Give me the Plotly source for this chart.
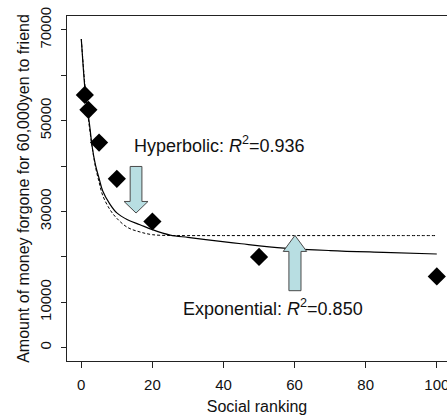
import plotly.graph_objects as go

# ---- data ----
rank = [1, 2, 5, 10, 20, 50, 100]
amount = [55700, 52400, 45200, 37200, 27800, 20000, 15700]

# fitted curves
hyp_x = [0, 0.5, 1, 1.5, 2, 2.5, 3, 4, 5, 6, 8, 10, 13, 16.5, 20, 25, 30, 35, 45, 57, 70, 85, 100]
hyp_y = [68000, 62300, 57300, 54200, 51100, 48000, 44600, 40200, 37300, 34600, 31700, 29700,
         28200, 27100, 26000, 24800, 24300, 23800, 22900, 21960, 21400, 21000, 20640]
exp_x = [0, 1, 2, 3, 4, 5, 6, 8, 10, 13, 16.5, 20, 25, 30, 40, 60, 80, 100]
exp_y = [68000, 58000, 50400, 44500, 39800, 36500, 33600, 30500, 28500, 26500, 25500, 24900,
         24720, 24700, 24700, 24700, 24700, 24700]

x_ticks = [0, 20, 40, 60, 80, 100]
x_ticklabels = ["0", "20", "40", "60", "80", "100"]
y_ticks = [0, 10000, 30000, 50000, 70000]
y_ticklabels = ["0", "10000", "30000", "50000", "70000"]
y_minor_step = 10000

hyp_label = "Hyperbolic: <i>R</i><sup>2</sup>=0.936"
exp_label = "Exponential: <i>R</i><sup>2</sup>=0.850"
x_title = "Social ranking"
y_title = "Amount of money forgone for 60,000yen to friend"

FONT = "Arial, Liberation Sans, sans-serif"


def arrow_path(xc, shaft_half, head_half, tail_y, base_y, tip_y):
    pts = [(xc - shaft_half, tail_y), (xc + shaft_half, tail_y), (xc + shaft_half, base_y),
           (xc + head_half, base_y), (xc, tip_y), (xc - head_half, base_y), (xc - shaft_half, base_y)]
    return "M " + " L ".join(f"{x},{y}" for x, y in pts) + " Z"


fig = go.Figure()
fig.add_trace(go.Scatter(x=exp_x, y=exp_y, mode="lines", line=dict(color="black", width=1, dash="3px,2px", shape="spline"),
                         showlegend=False, hoverinfo="skip"))
fig.add_trace(go.Scatter(x=hyp_x, y=hyp_y, mode="lines", line=dict(color="black", width=1.2, shape="spline"),
                         showlegend=False, hoverinfo="skip"))
fig.add_trace(go.Scatter(x=rank, y=amount, mode="markers", cliponaxis=False,
                         marker=dict(symbol="diamond", size=14, color="black", line=dict(width=0)),
                         showlegend=False))

arrow_style = dict(type="path", xref="x", yref="y", fillcolor="#B8DEE2",
                   line=dict(color="#4a4a4a", width=1), layer="above")
fig.add_shape(path=arrow_path(15.4, 1.65, 3.37, 39930, 32220, 29670), **arrow_style)
fig.add_shape(path=arrow_path(60.1, 1.7, 3.3, 12560, 21210, 24740), **arrow_style)

fig.add_annotation(x=14.4, y=44660, xref="x", yref="y", text=hyp_label, showarrow=False,
                   xanchor="left", yanchor="middle", font=dict(family=FONT, size=18, color="#111"))
fig.add_annotation(x=28.0, y=8750, xref="x", yref="y", text=exp_label, showarrow=False,
                   xanchor="left", yanchor="middle", font=dict(family=FONT, size=18, color="#111"))

fig.update_layout(
    width=447, height=417,
    margin=dict(l=67, r=0, t=16, b=56),
    paper_bgcolor="white", plot_bgcolor="white",
    font=dict(family=FONT, size=15, color="#111"),
    xaxis=dict(range=[-4.02, 102.87], tickvals=x_ticks, ticktext=x_ticklabels, ticks="outside", ticklen=6,
               tickcolor="#222", showline=True, linecolor="#222", linewidth=1, mirror=True, showgrid=False,
               zeroline=False, automargin=False, tickfont=dict(size=15), ticklabelstandoff=4,
               ticklabeloverflow="allow",
               title=dict(text=x_title, font=dict(size=16), standoff=8)),
    yaxis=dict(range=[-2930, 73080], tickvals=y_ticks, ticktext=y_ticklabels, ticks="outside", ticklen=5,
               tickcolor="#222", tickangle=-90, showline=True, linecolor="#222", linewidth=1, mirror=False,
               minor=dict(tick0=0, dtick=y_minor_step, ticks="outside", ticklen=5, tickcolor="#222", showgrid=False),
               showgrid=False, zeroline=False, automargin=False, tickfont=dict(size=15), ticklabelstandoff=4,
               ticklabeloverflow="allow",
               title=dict(text=y_title, font=dict(size=16), standoff=3)),
)

fig.write_html("out.html", config={"displayModeBar": False},
               post_script="document.body.style.margin='0';")
